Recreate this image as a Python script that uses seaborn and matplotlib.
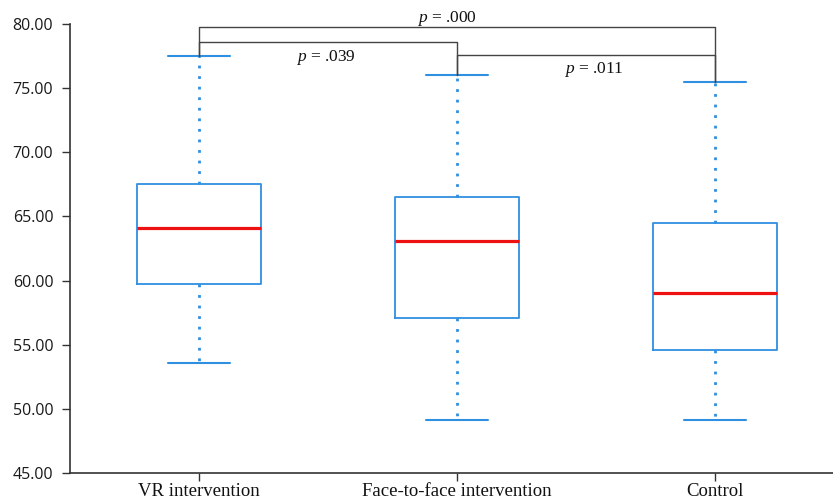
import numpy as np
import pandas as pd
import matplotlib
matplotlib.use("Agg")
import matplotlib.pyplot as plt
import seaborn as sns

# ---- data (five-number summaries) ----
groups = ["VR intervention", "Face-to-face intervention", "Control"]
mins = [53.6, 49.1, 49.1]
q1s = [59.7, 57.1, 54.6]
medians = [64.1, 63.1, 59.0]
q3s = [67.5, 66.5, 64.5]
maxs = [77.5, 76.0, 75.5]
y_ticks = [45, 50, 55, 60, 65, 70, 75, 80]

# significance brackets
pairs = [(0, 2), (0, 1), (1, 2)]
bracket_heights = [79.75, 78.6, 77.6]
p_texts = [".000", ".039", ".011"]
p_text_x = [0.96, 0.49, 1.53]
p_text_y = [80.45, 77.35, 76.45]

rows = []
for g, a, b, c, d, e in zip(groups, mins, q1s, medians, q3s, maxs):
    for v in (a, b, c, d, e):
        rows.append({"group": g, "value": v})
df = pd.DataFrame(rows)

sns.set_theme(style="ticks")
plt.rcParams["mathtext.fontset"] = "custom"
plt.rcParams["mathtext.it"] = "Liberation Serif:italic"
plt.rcParams["mathtext.rm"] = "Liberation Serif"
blue = "#2f8fe0"

fig = plt.figure(figsize=(8.33, 5.0), dpi=100)
ax = fig.add_axes([0.084, 0.054, 0.916, 0.898])

sns.boxplot(
    data=df, x="group", y="value", order=groups, whis=np.inf, width=0.48,
    ax=ax, fill=False, showfliers=False, color=blue, linecolor=blue,
    boxprops=dict(color=blue, linewidth=1.3),
    whiskerprops=dict(color=blue, linewidth=2.0, linestyle=(0, (1, 2.8))),
    capprops=dict(color=blue, linewidth=1.5),
    medianprops=dict(color="#ee1111", linewidth=2.3),
    capwidths=0.24,
)

ax.set_ylim(45, 80)
ax.set_xlim(-0.5, 2.457)
ax.set_yticks(y_ticks)
ax.set_yticklabels([f"{t:.2f}" for t in y_ticks], fontfamily="Open Sans", fontsize=11.5)
ax.set_xticks(range(len(groups)))
ax.set_xticklabels(groups, fontfamily="Liberation Serif", fontsize=13.5)
ax.set_xlabel("")
ax.set_ylabel("")
ax.tick_params(axis="y", length=6, width=1, color="#333333", pad=6, labelcolor="#1a1a1a")
ax.tick_params(axis="x", length=6, width=1, color="#333333", pad=1.5, labelcolor="#111111")
for s in ("top", "right"):
    ax.spines[s].set_visible(False)
for s in ("left", "bottom"):
    ax.spines[s].set_color("#333333")
    ax.spines[s].set_linewidth(1.2)

for (i, j), h in zip(pairs, bracket_heights):
    ax.plot([i, i, j, j], [maxs[i], h, h, maxs[j]], color="#444444", lw=1.0,
            clip_on=False, zorder=3)

for txt, x, y in zip(p_texts, p_text_x, p_text_y):
    ax.text(x, y, r"$p$ = " + txt, ha="center", va="center",
            fontfamily="Liberation Serif", fontsize=12.5, color="#111111", clip_on=False)

fig.savefig("out.png", dpi=100)
